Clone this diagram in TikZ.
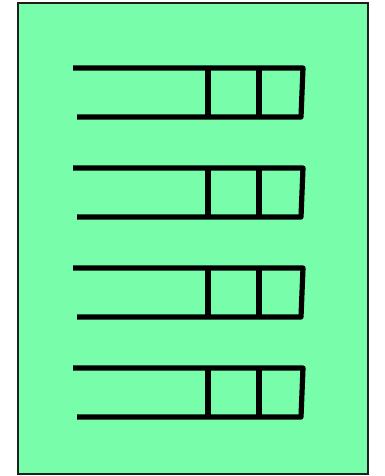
\documentclass[tikz,border=0pt]{standalone}
\usetikzlibrary{positioning}
\definecolor{qgreen}{RGB}{120,253,170}
\definecolor{qedge}{RGB}{30,30,30}
\tikzset{
  panel/.style={draw=qedge, fill=qgreen, line width=1pt},
  qline/.style={black, line width=2.6pt, line join=round},
}

\begin{document}
\begin{tikzpicture}[x=0.5pt, y=-0.5pt]
        \useasboundingbox (0,0) rectangle (385,476);
        \draw[panel] (18,3) rectangle (368,474);
        % four queues, open on the left
        \foreach \q in {0,1,2,3} {
          \draw[qline] (73,68+100*\q) -- (303,68+100*\q) -- (301,117+100*\q) -- (77,117+100*\q);
          \draw[qline] (208,68+100*\q) -- (208,117+100*\q);
          \draw[qline] (259,68+100*\q) -- (259,117+100*\q);
        }
      \end{tikzpicture}
\end{document}
